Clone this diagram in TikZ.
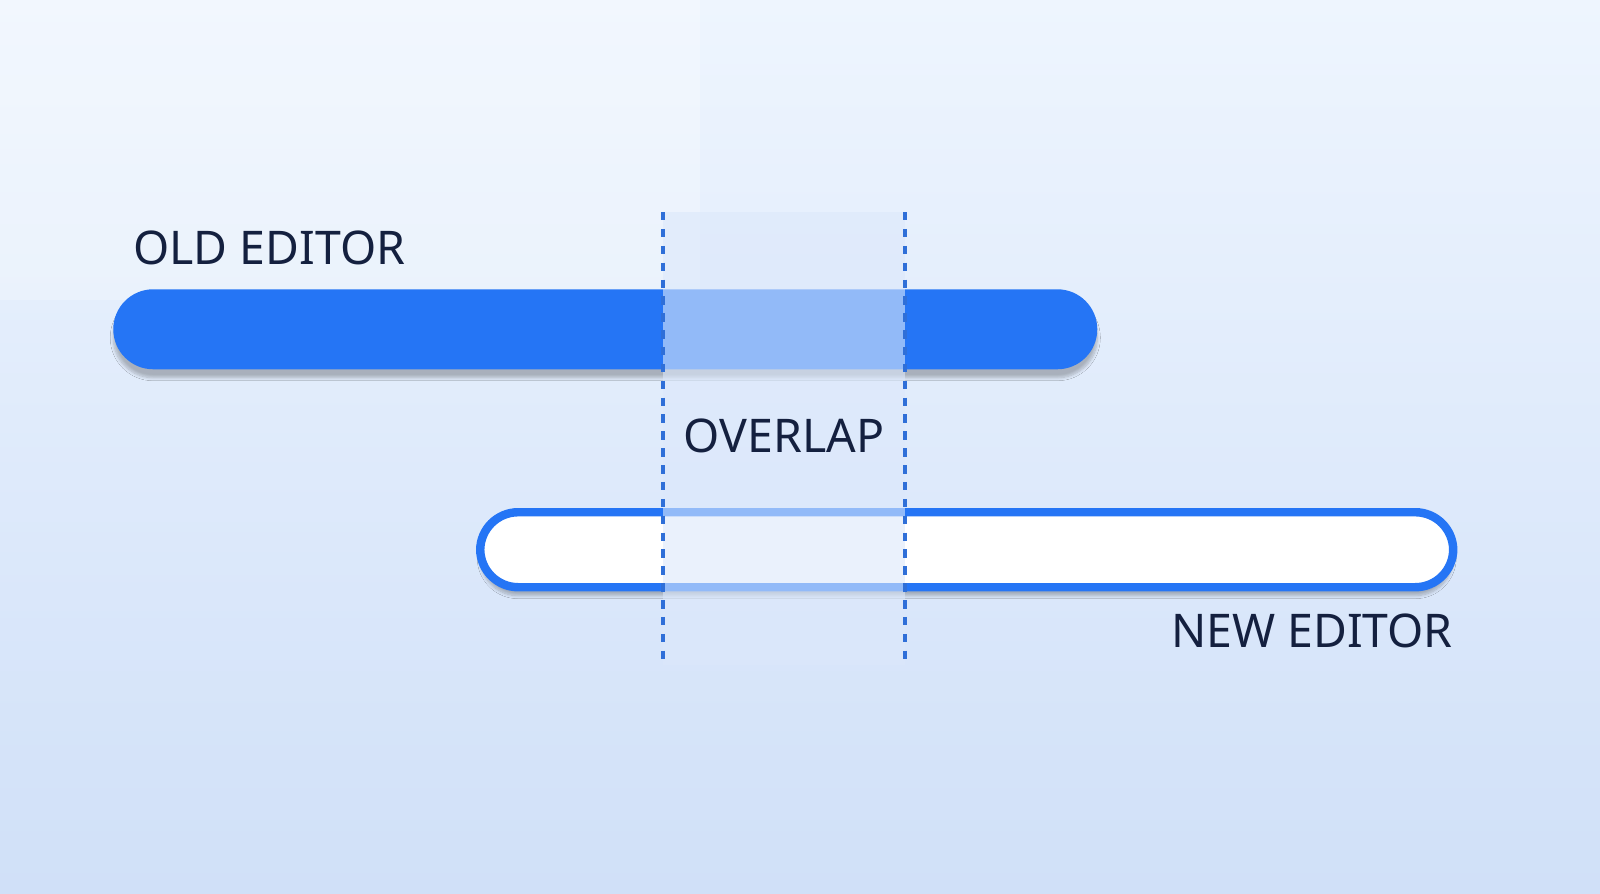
\documentclass[tikz,border=0pt]{standalone}
\usepackage{fontspec}
\setmainfont{Noto Sans}
\usetikzlibrary{shadows.blur}
\definecolor{bgA}{HTML}{EEF5FE}
\definecolor{bgB}{HTML}{D0E0F8}
\definecolor{barblue}{HTML}{2575F5}
\definecolor{navy}{HTML}{14203F}
\definecolor{dashcol}{HTML}{2F6FD8}
\definecolor{bandcol}{HTML}{DCE8FB}
\begin{document}
\begin{tikzpicture}[x=0.025cm,y=-0.025cm,
  lbl/.style={font=\bfseries\fontsize{33}{36}\selectfont,text=navy,inner sep=0pt},
  shad/.style={blur shadow={shadow xshift=0pt,shadow yshift=-6pt,shadow blur steps=8,shadow opacity=25}},
  dashline/.style={draw=dashcol,line width=2.2pt,dash pattern=on 6pt off 6pt}]
\useasboundingbox (0,0) rectangle (1600,894);
\shade[left color=bgA,right color=bgB,shading angle=0] (0,0) rectangle (1600,894);
\fill[white,opacity=0.25] (0,0) rectangle (700,300);
% bars
\node[shad,fill=barblue,rounded corners=40*0.025cm,minimum width=984*0.025cm,minimum height=80*0.025cm,inner sep=0,anchor=north west] (old) at (113,289) {};
\node[shad,fill=white,draw=barblue,line width=6pt,rounded corners=38*0.025cm,minimum width=973*0.025cm,minimum height=75*0.025cm,inner sep=0,anchor=north west] (new) at (476,508) {};
% band
\fill[bandcol,opacity=0.6] (663,212) rectangle (905,665);
\coordinate (d1t) at (663,212); \coordinate (d1b) at (663,665);
\coordinate (d2t) at (905,212); \coordinate (d2b) at (905,665);
\draw[dashline] (d1t) -- (d1b);
\draw[dashline] (d2t) -- (d2b);
\node[lbl,anchor=base west] (oldl) at (133,264) {OLD EDITOR};
\node[lbl,anchor=base] (ovl) at (784,452) {OVERLAP};
\node[lbl,anchor=base east] (newl) at (1453,647) {NEW EDITOR};
\end{tikzpicture}
\end{document}
